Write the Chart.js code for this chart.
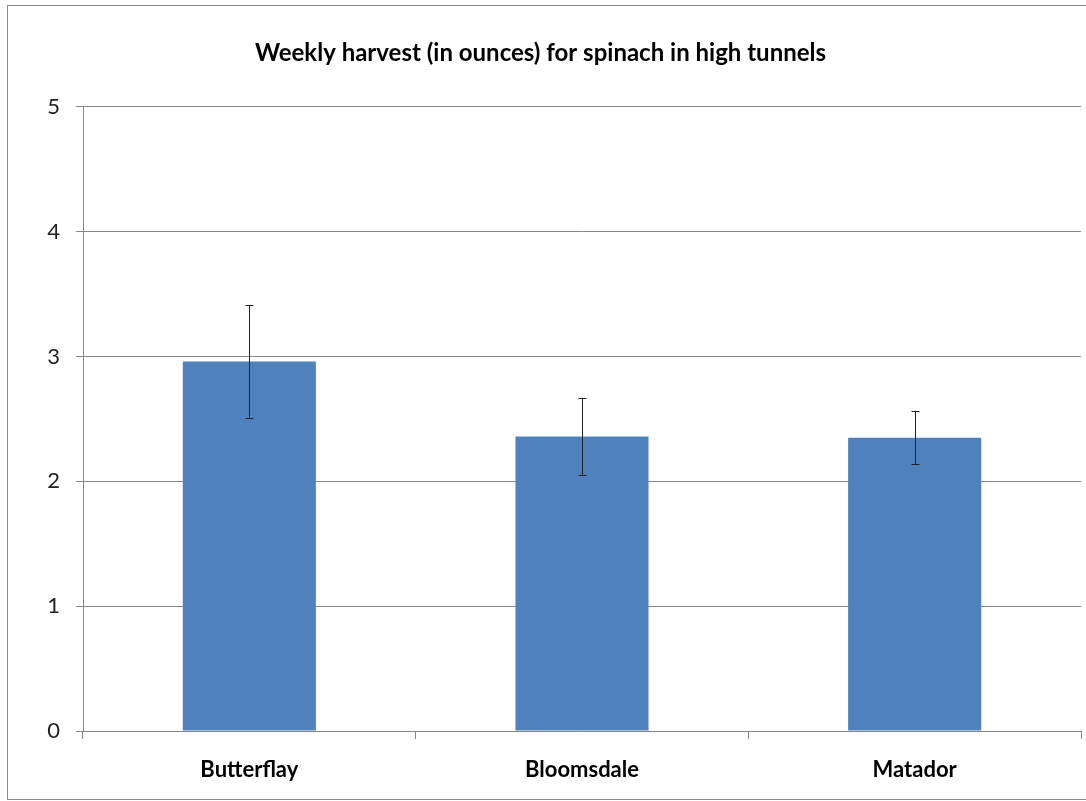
<!DOCTYPE html>
<html>
<head>
<meta charset="utf-8">
<script src="https://cdn.jsdelivr.net/npm/chart.js@4"></script>
<style>
  html, body { margin: 0; padding: 0; background: #fff; }
  #wrap { position: absolute; left: 0; top: 0; width: 1086px; height: 801px; }
</style>
</head>
<body>
<div id="wrap"><canvas id="myChart" width="1086" height="801"></canvas></div>
<script>
// chart data
var varieties = ['Butterflay', 'Bloomsdale', 'Matador'];
var harvest = [2.96, 2.36, 2.35];
var harvestErr = [0.45, 0.31, 0.215];
var yTicks = [0, 1, 2, 3, 4, 5];

var gridGray = '#868686';

// outer frame like the spreadsheet chart area
var framePlugin = {
  id: 'frame',
  beforeDraw: function(chart) {
    var ctx = chart.ctx;
    ctx.save();
    ctx.fillStyle = '#fff';
    ctx.fillRect(0, 0, chart.width, chart.height);
    ctx.strokeStyle = '#8c8c8c';
    ctx.lineWidth = 1;
    ctx.strokeRect(7.5, 5.5, 1100, 794);
    ctx.restore();
  }
};

// error bars (+/-) on top of each bar
var errorBarPlugin = {
  id: 'errorBars',
  afterDatasetsDraw: function(chart) {
    var ctx = chart.ctx;
    var yScale = chart.scales.y;
    var meta = chart.getDatasetMeta(0);
    ctx.save();
    ctx.strokeStyle = '#222';
    ctx.lineWidth = 1;
    for (var i = 0; i < meta.data.length; i++) {
      var x = Math.round(meta.data[i].x) + 0.5;
      var top = yScale.getPixelForValue(harvest[i] + harvestErr[i]);
      var bot = yScale.getPixelForValue(harvest[i] - harvestErr[i]);
      ctx.beginPath();
      ctx.moveTo(x, top);
      ctx.lineTo(x, bot);
      ctx.moveTo(x - 4, Math.round(top) + 0.5);
      ctx.lineTo(x + 4, Math.round(top) + 0.5);
      ctx.moveTo(x - 4, Math.round(bot) + 0.5);
      ctx.lineTo(x + 4, Math.round(bot) + 0.5);
      ctx.stroke();
    }
    ctx.restore();
  }
};

var ctx = document.getElementById('myChart').getContext('2d');
var myChart = new Chart(ctx, {
  type: 'bar',
  data: {
    labels: varieties,
    datasets: [{
      label: 'Weekly harvest',
      data: harvest,
      backgroundColor: '#4F81BD',
      borderWidth: 0,
      barPercentage: 0.4,
      categoryPercentage: 1.0
    }]
  },
  options: {
    responsive: false,
    animation: false,
    layout: { padding: { left: 0, right: 5, top: 0, bottom: 0 } },
    plugins: {
      legend: { display: false },
      tooltip: { enabled: false },
      title: {
        display: true,
        text: 'Weekly harvest (in ounces) for spinach in high tunnels',
        color: '#000',
        font: { family: 'Lato', size: 24, weight: 'bold' },
        padding: { top: 39, bottom: 39 }
      }
    },
    scales: {
      x: {
        afterFit: function(scale) { scale.height = 70; },
        grid: {
          offset: true,
          drawOnChartArea: false,
          color: gridGray,
          tickLength: 8
        },
        border: { color: gridGray },
        ticks: {
          color: '#000',
          padding: 18,
          font: { family: 'Lato', size: 22, weight: 'bold' }
        }
      },
      y: {
        min: 0,
        max: 5,
        afterFit: function(scale) { scale.width = 83; },
        afterBuildTicks: function(scale) {
          scale.ticks = yTicks.map(function(v) { return { value: v }; });
        },
        grid: {
          color: gridGray,
          tickLength: 7
        },
        border: { color: gridGray },
        ticks: {
          color: '#222',
          padding: 16,
          font: { family: 'Lato', size: 22 }
        }
      }
    }
  },
  plugins: [framePlugin, errorBarPlugin]
});
</script>
</body>
</html>
